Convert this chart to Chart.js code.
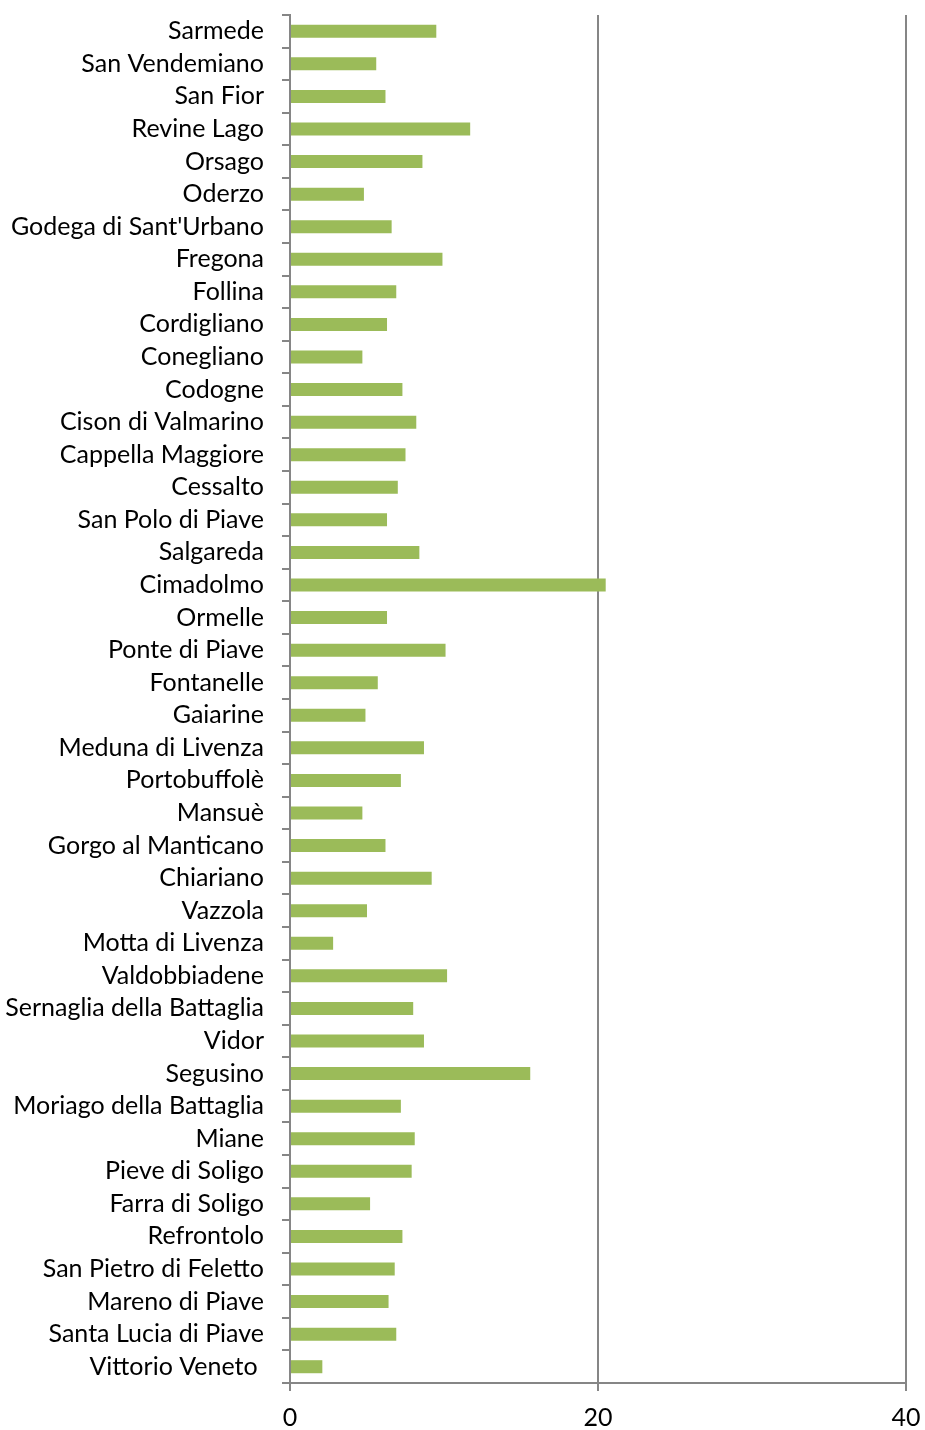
<!DOCTYPE html>
<html>
<head>
<meta charset="utf-8">
<script src="https://cdn.jsdelivr.net/npm/chart.js@4/dist/chart.umd.min.js"></script>
<style>
  html, body { margin: 0; padding: 0; background: #fff; }
  #wrap { width: 925px; height: 1430px; }
</style>
</head>
<body>
<div id="wrap"><canvas id="myChart" width="925" height="1430"></canvas></div>
<script>
const comuni = [
  'Sarmede', 'San Vendemiano', 'San Fior', 'Revine Lago', 'Orsago', 'Oderzo',
  "Godega di Sant'Urbano", 'Fregona', 'Follina', 'Cordigliano', 'Conegliano',
  'Codogne', 'Cison di Valmarino', 'Cappella Maggiore', 'Cessalto',
  'San Polo di Piave', 'Salgareda', 'Cimadolmo', 'Ormelle', 'Ponte di Piave',
  'Fontanelle', 'Gaiarine', 'Meduna di Livenza', 'Portobuffolè', 'Mansuè',
  'Gorgo al Manticano', 'Chiariano', 'Vazzola', 'Motta di Livenza',
  'Valdobbiadene', 'Sernaglia della Battaglia', 'Vidor', 'Segusino',
  'Moriago della Battaglia', 'Miane', 'Pieve di Soligo', 'Farra di Soligo',
  'Refrontolo', 'San Pietro di Feletto', 'Mareno di Piave',
  'Santa Lucia di Piave', 'Vittorio Veneto '
];

const valori = [
  9.5, 5.6, 6.2, 11.7, 8.6, 4.8,
  6.6, 9.9, 6.9, 6.3, 4.7,
  7.3, 8.2, 7.5, 7.0,
  6.3, 8.4, 20.5, 6.3, 10.1,
  5.7, 4.9, 8.7, 7.2, 4.7,
  6.2, 9.2, 5.0, 2.8,
  10.2, 8.0, 8.7, 15.6,
  7.2, 8.1, 7.9, 5.2,
  7.3, 6.8, 6.4,
  6.9, 2.1
];

const xTicks = [0, 20, 40];

const grigio = '#868686';

const ctx = document.getElementById('myChart').getContext('2d');
const myChart = new Chart(ctx, {
  type: 'bar',
  data: {
    labels: comuni,
    datasets: [{
      data: valori,
      backgroundColor: '#9BBB59',
      borderWidth: 0,
      barPercentage: 0.4,
      categoryPercentage: 1
    }]
  },
  options: {
    indexAxis: 'y',
    responsive: false,
    animation: false,
    layout: { padding: 0 },
    plugins: {
      legend: { display: false },
      tooltip: { enabled: false }
    },
    scales: {
      x: {
        min: 0,
        max: 40,
        afterBuildTicks: s => { s.ticks = xTicks.map(v => ({ value: v })); },
        afterFit: s => {
          s.height = 47;
          s.paddingLeft = 0;
          s.paddingRight = 19;
        },
        border: { color: grigio, width: 2 },
        grid: { color: grigio, lineWidth: 2, tickLength: 8 },
        ticks: {
          color: '#000',
          padding: 12,
          font: { family: 'Lato', size: 25 }
        }
      },
      y: {
        afterFit: s => {
          s.width = 290;
          s.paddingTop = 15;
          s.paddingBottom = 0;
        },
        border: { color: grigio, width: 2 },
        grid: { color: grigio, lineWidth: 2, drawOnChartArea: false, tickLength: 8 },
        ticks: {
          color: '#000',
          padding: 18,
          autoSkip: false,
          font: { family: 'Lato', size: 25 }
        }
      }
    }
  }
});
</script>
</body>
</html>
